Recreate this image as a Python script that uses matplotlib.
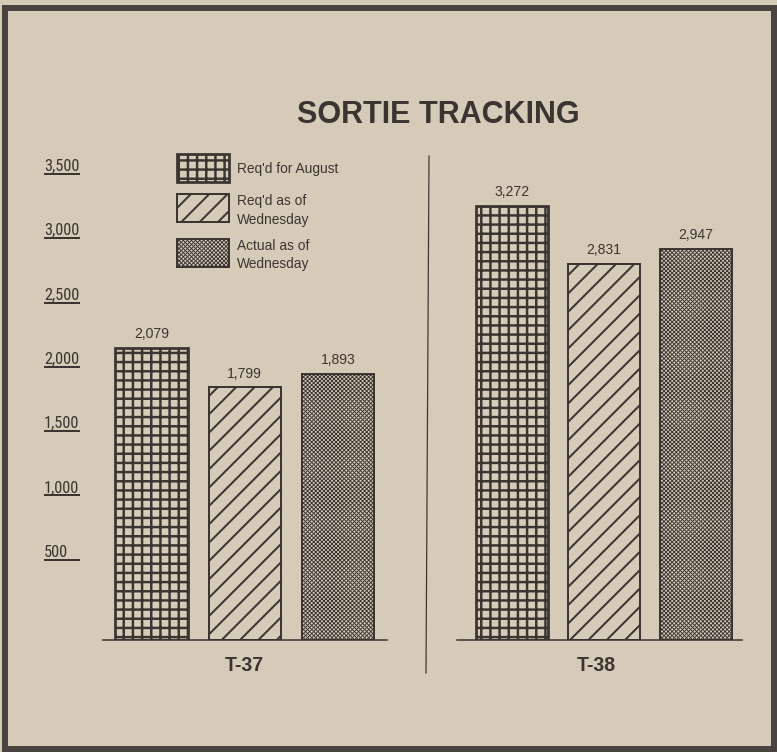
import matplotlib
matplotlib.use('Agg')
import matplotlib.pyplot as plt
from matplotlib import font_manager
from matplotlib.patches import Rectangle
from matplotlib.lines import Line2D

aircraft = ['T-37', 'T-38']
series_names = ["Req'd for August", "Req'd as of\nWednesday", "Actual as of\nWednesday"]
reqd_august = [2079, 3272]
reqd_wednesday = [1799, 2831]
actual_wednesday = [1893, 2947]
scale_values = [500, 1000, 1500, 2000, 2500, 3000, 3500]
scale_labels = ['500', '1,000', '1,500', '2,000', '2,500', '3,000', '3,500']

DPI = 110
W, H = 777, 752
PAPER = '#d6cab8'
INK = '#3b3532'
FRAME = '#4a4441'

plt.rcParams['font.family'] = ['Liberation Sans', 'DejaVu Sans']


def find_narrow():
    # a condensed sans for the scale numbers, if one is installed
    condensed = ('condensed', 'semi-condensed', 'extra-condensed',
                 'ultra-condensed')
    wanted = ['Liberation Sans Narrow', 'Arial Narrow', 'Roboto Condensed',
              'Open Sans Condensed', 'Noto Sans', 'Open Sans', 'Roboto',
              'DejaVu Sans']
    for name in wanted:
        for f in font_manager.fontManager.ttflist:
            if f.name != name or f.style != 'normal':
                continue
            if f.weight not in (400, 'normal', 'regular', 'book'):
                continue
            st = f.stretch
            if isinstance(st, (int, float)):
                ok = st < 500
            else:
                ok = st in condensed
            if 'Narrow' in name or 'Condensed' in name or ok:
                return font_manager.FontProperties(fname=f.fname)
    return None


narrow = find_narrow()
if narrow is not None:
    scale_font = narrow
    scale_font.set_size(10.7)
else:
    scale_font = font_manager.FontProperties(family='Liberation Sans', size=9.2)


def fx(px):
    return px / W


def fy(py):
    return 1 - py / H


def make_bars(ax, x, h, hatch, hlw, elw, width):
    with plt.rc_context({'hatch.linewidth': hlw}):
        bars = ax.bar(x, h, width=width, color=PAPER, edgecolor=INK,
                      hatch=hatch, linewidth=elw)
    for b in bars:
        if hasattr(b, 'set_hatch_linewidth'):
            b.set_hatch_linewidth(hlw)
    return bars


fig = plt.figure(figsize=(W / DPI, H / DPI), dpi=DPI, facecolor=PAPER)

hatches = ['++', '//', 'x' * 9]
hatch_lw = [1.6, 1.3, 0.6]
edge_lw = [1.8, 1.3, 1.3]

values = [reqd_august, reqd_wednesday, actual_wednesday]

# bar panels: (left px, right px, xlim, ymax, label shift) -- the paper
# used a slightly different vertical scale for each panel
panels = [
    (103, 387, (-0.52, 2.525), 3490, 0),
    (457, 742, (-0.598, 2.50), 3690, -8),
]
top_px, base_px = 150, 640
bottom = fy(base_px)
height = (base_px - top_px) / H

for i, (l, r, xlim, ymax, dx) in enumerate(panels):
    ax = fig.add_axes([fx(l), bottom, (r - l) / W, height])
    ax.patch.set_visible(False)
    for s in ['left', 'right', 'top']:
        ax.spines[s].set_visible(False)
    ax.spines['bottom'].set_color(INK)
    ax.spines['bottom'].set_linewidth(1.0)
    ax.set_xlim(*xlim)
    ax.set_ylim(0, ymax)
    ax.set_xticks([])
    ax.set_yticks([])
    for j in range(3):
        bars = make_bars(ax, [j], [values[j][i]], hatches[j], hatch_lw[j],
                         edge_lw[j], 0.775)
        ax.bar_label(bars, labels=[f'{values[j][i]:,}'], padding=4.5,
                     fontsize=9.2, color=INK)
    ax.annotate(aircraft[i], (1, 0), xycoords=('data', 'axes fraction'),
                xytext=(dx, -31), textcoords='offset pixels',
                ha='center', va='baseline', fontsize=12.8,
                fontweight='bold', color=INK)

# scale at the left (underlined labels)
ax_s = fig.add_axes([fx(44), bottom, 36 / W, height])
ax_s.set_xlim(0, 1)
ax_s.set_ylim(-124, 3686)
ax_s.axis('off')
for v, lab in zip(scale_values, scale_labels):
    ax_s.plot([0, 1], [v, v], color=INK, lw=1.3, solid_capstyle='butt')
    ax_s.annotate(lab, (0, v), xytext=(0, 3), textcoords='offset pixels',
                  ha='left', va='baseline', fontproperties=scale_font,
                  color=INK)

# title
fig.text(fx(438), fy(123), 'SORTIE TRACKING', fontsize=20,
         fontweight='bold', ha='center', va='baseline', color=INK)

# legend drawn by hand
box_tops = [154, 194, 239]
text_baselines = [[173], [205, 224], [250, 268]]
for j in range(3):
    with plt.rc_context({'hatch.linewidth': hatch_lw[j]}):
        rect = Rectangle((fx(177), fy(box_tops[j] + 28)), 52 / W, 28 / H,
                         transform=fig.transFigure, facecolor=PAPER,
                         edgecolor=INK, hatch=hatches[j], linewidth=edge_lw[j])
    if hasattr(rect, 'set_hatch_linewidth'):
        rect.set_hatch_linewidth(hatch_lw[j])
    fig.add_artist(rect)
    for line, yb in zip(series_names[j].split('\n'), text_baselines[j]):
        fig.text(fx(237), fy(yb), line, fontsize=9.0,
                 ha='left', va='baseline', color=INK)

# divider between the two panels
fig.add_artist(Line2D([fx(429), fx(426)], [fy(156), fy(673)],
                      color=INK, lw=0.8))

# dark frame of the clipping
fig.add_artist(Rectangle((fx(5), fy(749)), 769 / W, 741 / H,
                         transform=fig.transFigure, fill=False,
                         edgecolor=FRAME, linewidth=6 * 72 / DPI))

fig.savefig('out.png', dpi=DPI, facecolor=PAPER)
